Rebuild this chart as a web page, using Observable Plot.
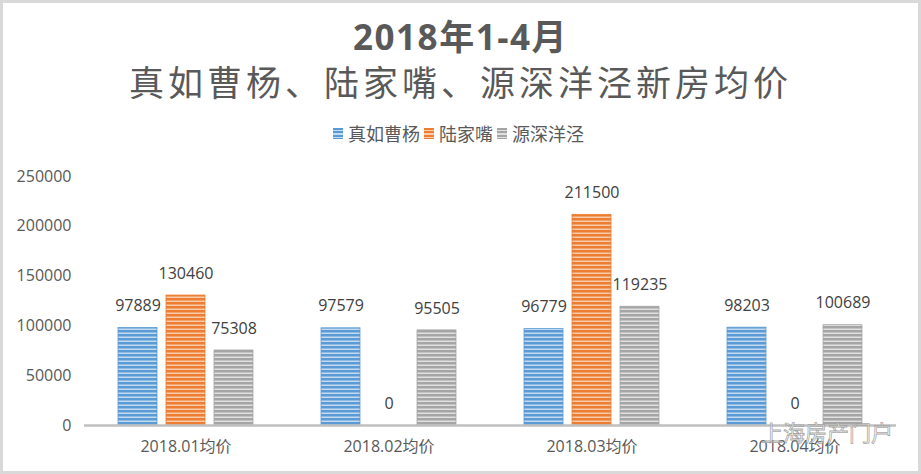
<!DOCTYPE html>
<html>
<head>
<meta charset="utf-8">
<script src="https://cdn.jsdelivr.net/npm/d3@7"></script>
<script src="https://cdn.jsdelivr.net/npm/@observablehq/plot@0.6"></script>
<style>
  html, body { margin: 0; padding: 0; background: #fff; }
  #wrap { position: relative; width: 921px; height: 474px; box-sizing: border-box; border: 3px solid #d9d9d9; background: #fff; overflow: hidden; }
  #header { position: relative; height: 147px; }
  .t1 { position: absolute; left: 0; right: 0; top: 17px; text-align: center; font-family: "Open Sans", "Noto Sans CJK SC", sans-serif; font-weight: 700; font-size: 35px; line-height: 34px; color: #595959; letter-spacing: 1.5px; }
  .t2 { position: absolute; left: 0; right: 0; top: 59px; text-align: center; font-family: "Noto Sans CJK SC", sans-serif; font-weight: 400; font-size: 35px; line-height: 38px; color: #595959; letter-spacing: 4px; }
  .legend { position: absolute; left: 0; right: 0; top: 118px; display: flex; justify-content: center; align-items: center; font-family: "Noto Sans CJK SC", sans-serif; font-size: 18px; line-height: 24px; color: #595959; }
  .legend .item { display: flex; align-items: center; margin: 0 4px 0 0; }
  .legend .sw { width: 10px; height: 11px; margin-right: 5px; }
  .watermark { position: absolute; left: 758px; top: 415px; font-family: "Noto Sans CJK SC", sans-serif; font-size: 22px; line-height: 26px; color: rgba(255,255,255,0.55); -webkit-text-stroke: 0.8px rgba(150,150,150,0.85); }
</style>
</head>
<body>
<div id="wrap">
  <div id="header">
    <div class="t1">2018年1-4月</div>
    <div class="t2">真如曹杨、陆家嘴、源深洋泾新房均价</div>
    <div class="legend" id="legend"></div>
  </div>
  <div id="chart"></div>
  <div class="watermark">上海房产门户</div>
</div>
<script>
const months = ["2018.01均价", "2018.02均价", "2018.03均价", "2018.04均价"];
const series = ["真如曹杨", "陆家嘴", "源深洋泾"];
const zhenruCaoyang = [97889, 97579, 96779, 98203];
const lujiazui = [130460, 0, 211500, 0];
const yuanshenYangjing = [75308, 95505, 119235, 100689];
const yTicks = [0, 50000, 100000, 150000, 200000, 250000];

const baseColors = ["#5b9bd5", "#ed7d31", "#a5a5a5"];
const lightColors = ["#c3dbf1", "#f8cbad", "#e0e0e0"];
const patternIds = ["pat-blue", "pat-orange", "pat-gray"];

const seriesValues = [zhenruCaoyang, lujiazui, yuanshenYangjing];
const data = [];
months.forEach((m, i) => {
  series.forEach((s, j) => {
    data.push({ month: m, series: s, value: seriesValues[j][i] });
  });
});

// legend
const legend = document.getElementById("legend");
series.forEach((s, j) => {
  const item = document.createElement("div");
  item.className = "item";
  const sw = document.createElement("div");
  sw.className = "sw";
  sw.style.background = `repeating-linear-gradient(to bottom, ${baseColors[j]} 0px, ${baseColors[j]} 2px, ${lightColors[j]} 2px, ${lightColors[j]} 3.5px)`;
  const lab = document.createElement("span");
  lab.textContent = s;
  item.appendChild(sw);
  item.appendChild(lab);
  legend.appendChild(item);
});

const plot = Plot.plot({
  width: 915,
  height: 321,
  marginTop: 26,
  marginBottom: 46,
  marginLeft: 79,
  marginRight: 21,
  style: { fontFamily: "'Open Sans', 'Noto Sans CJK SC', sans-serif", fontSize: "16px", color: "#595959", background: "transparent" },
  fx: { domain: months, padding: 0, label: null, axis: "bottom", tickSize: 0, tickPadding: 15 },
  x: { domain: series, paddingInner: 0.18, paddingOuter: 0.67, axis: null },
  y: { domain: [0, 250000], ticks: yTicks, tickFormat: d => String(d), tickSize: 0, tickPadding: 13, label: null },
  color: { domain: series, range: patternIds.map(id => `url(#${id})`) },
  marks: [
    Plot.barY(data, { fx: "month", x: "series", y: "value", fill: "series", stroke: d => baseColors[series.indexOf(d.series)], strokeWidth: 0.8 }),
    Plot.ruleY([0], { stroke: "#bfbfbf", strokeWidth: 2.5 }),
    Plot.text(data, { fx: "month", x: "series", y: "value", text: d => String(d.value), dy: -22, fill: "#404040", fontSize: 16 })
  ]
});

const svg = d3.select(plot);
const defs = svg.insert("defs", ":first-child");
patternIds.forEach((id, j) => {
  const p = defs.append("pattern").attr("id", id).attr("patternUnits", "userSpaceOnUse").attr("width", 4).attr("height", 4);
  p.append("rect").attr("width", 4).attr("height", 4).attr("fill", baseColors[j]);
  p.append("rect").attr("y", 2.5).attr("width", 4).attr("height", 1.5).attr("fill", lightColors[j]);
});
document.getElementById("chart").appendChild(plot);
</script>
</body>
</html>
